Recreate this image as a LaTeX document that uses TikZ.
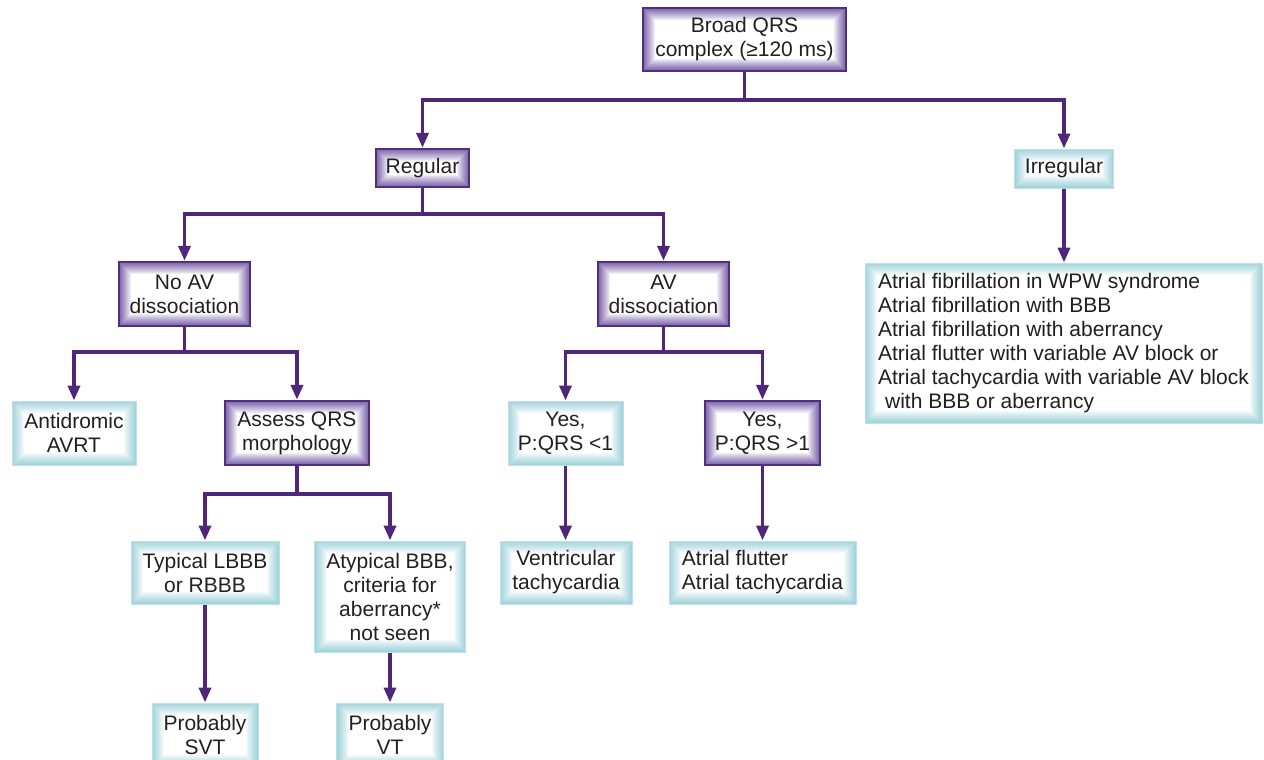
\documentclass[tikz,border=0pt]{standalone}
\usepackage{fontspec}
\setmainfont{Liberation Sans}
\usetikzlibrary{arrows.meta}

\definecolor{flowline}{RGB}{78,38,122}
\definecolor{rimpurple}{RGB}{80,46,128}
\definecolor{glowpurple}{RGB}{124,100,170}
\definecolor{glowcyan}{RGB}{160,211,218}
\definecolor{rimcyan}{RGB}{192,224,232}
\definecolor{ink}{RGB}{35,31,32}

\tikzset{
  % box whose inside fades from a coloured rim to white
  glow/.style 2 args={
    path picture={
      \foreach \k in {0,...,#2}{
        \pgfmathtruncatemacro\mix{100*(1-\k/#2)^0.85}
        \fill[#1!\mix!white]
          ([xshift=\k pt,yshift=\k pt]path picture bounding box.south west)
          rectangle
          ([xshift=-\k pt,yshift=-\k pt]path picture bounding box.north east);
      }
    }
  },
  basebox/.style={rectangle, inner sep=0pt, align=center, text=ink,
    font=\fontsize{21}{24}\selectfont},
  pbox/.style={basebox, glow={glowpurple}{12}, draw=rimpurple, line width=2.4pt},
  cbox/.style={basebox, glow={glowcyan}{12}, draw=rimcyan, line width=1pt},
  link/.style={draw=flowline, line width=3.6pt},
  arr/.style={link, -{Triangle[length=15pt,width=12pt]}},
}

\begin{document}
\begin{tikzpicture}[x=1pt, y=-1pt, line join=miter]
\useasboundingbox (0,0) rectangle (1264,760);
\clip (0,0) rectangle (1264,760);

% decision and outcome boxes
\node[pbox, minimum width=203pt, minimum height=63pt] (broad) at (744.5,39.5) {Broad QRS\\complex (≥120 ms)};
\node[pbox, minimum width=93pt, minimum height=38pt] (regular) at (422.5,168) {Regular};
\node[cbox, minimum width=99pt, minimum height=39pt] (irregular) at (1064,168.5) {Irregular};
\node[pbox, minimum width=131pt, minimum height=64pt] (noav) at (184.5,294) {No AV\\dissociation};
\node[pbox, minimum width=131pt, minimum height=64pt] (av) at (663.5,294) {AV\\dissociation};
\node[cbox, minimum width=397pt, minimum height=160pt, align=left] (afib) at (1063.5,343)
  {Atrial fibrillation in WPW syndrome\\
   Atrial fibrillation with BBB\\
   Atrial fibrillation with aberrancy\\
   Atrial flutter with variable AV block or\\
   Atrial tachycardia with variable AV block\\
   \hspace*{7pt}with BBB or aberrancy};
\node[cbox, minimum width=124pt, minimum height=64pt] (antid) at (74,433) {Antidromic\\AVRT};
\node[pbox, minimum width=144pt, minimum height=64pt] (assess) at (297,433) {Assess QRS\\morphology};
\node[cbox, minimum width=115pt, minimum height=64pt] (yesless) at (565.5,433) {Yes,\\P:QRS <1};
\node[pbox, minimum width=115pt, minimum height=64pt] (yesmore) at (762.5,433) {Yes,\\P:QRS >1};
\node[cbox, minimum width=148pt, minimum height=63pt] (typical) at (205,572.5) {Typical LBBB\\or RBBB};
\node[cbox, minimum width=151pt, minimum height=111pt] (atypical) at (390,596.5) {Atypical BBB,\\criteria for\\aberrancy*\\not seen};
\node[cbox, minimum width=132pt, minimum height=63pt] (vtach) at (566,572.5) {Ventricular\\tachycardia};
\node[cbox, minimum width=187pt, minimum height=63pt, align=left] (aflut) at (762.5,572.5) {Atrial flutter\\Atrial tachycardia};
\node[cbox, minimum width=106pt, minimum height=64pt] (psvt) at (205,735) {Probably\\SVT};
\node[cbox, minimum width=107pt, minimum height=64pt] (pvt) at (390,735) {Probably\\VT};

% branching points
\coordinate (jbroad) at (744.5,100);
\coordinate (jreg) at (422.5,214);
\coordinate (jnoav) at (184.5,352);
\coordinate (jav) at (663.5,352);
\coordinate (jassess) at (297,494);

% connectors
\draw[link] (broad.south) -- (jbroad);
\draw[arr] (jbroad) -| (regular.north);
\draw[arr] (jbroad) -| (irregular.north);

\draw[link] (regular.south) -- (jreg);
\draw[arr] (jreg) -| (noav.north);
\draw[arr] (jreg) -| (av.north);

\draw[arr] (irregular.south) -- (irregular.south |- afib.north);

\draw[link] (noav.south) -- (jnoav);
\draw[arr] (jnoav) -| (antid.north);
\draw[arr] (jnoav) -| (assess.north);

\draw[link] (av.south) -- (jav);
\draw[arr] (jav) -| (yesless.north);
\draw[arr] (jav) -| (yesmore.north);

\draw[link] (assess.south) -- (jassess);
\draw[arr] (jassess) -| (typical.north);
\draw[arr] (jassess) -| (atypical.north);

\draw[arr] (yesless.south) -- (yesless.south |- vtach.north);
\draw[arr] (yesmore.south) -- (yesmore.south |- aflut.north);
\draw[arr] (typical.south) -- (psvt.north);
\draw[arr] (atypical.south) -- (pvt.north);
\end{tikzpicture}
\end{document}
